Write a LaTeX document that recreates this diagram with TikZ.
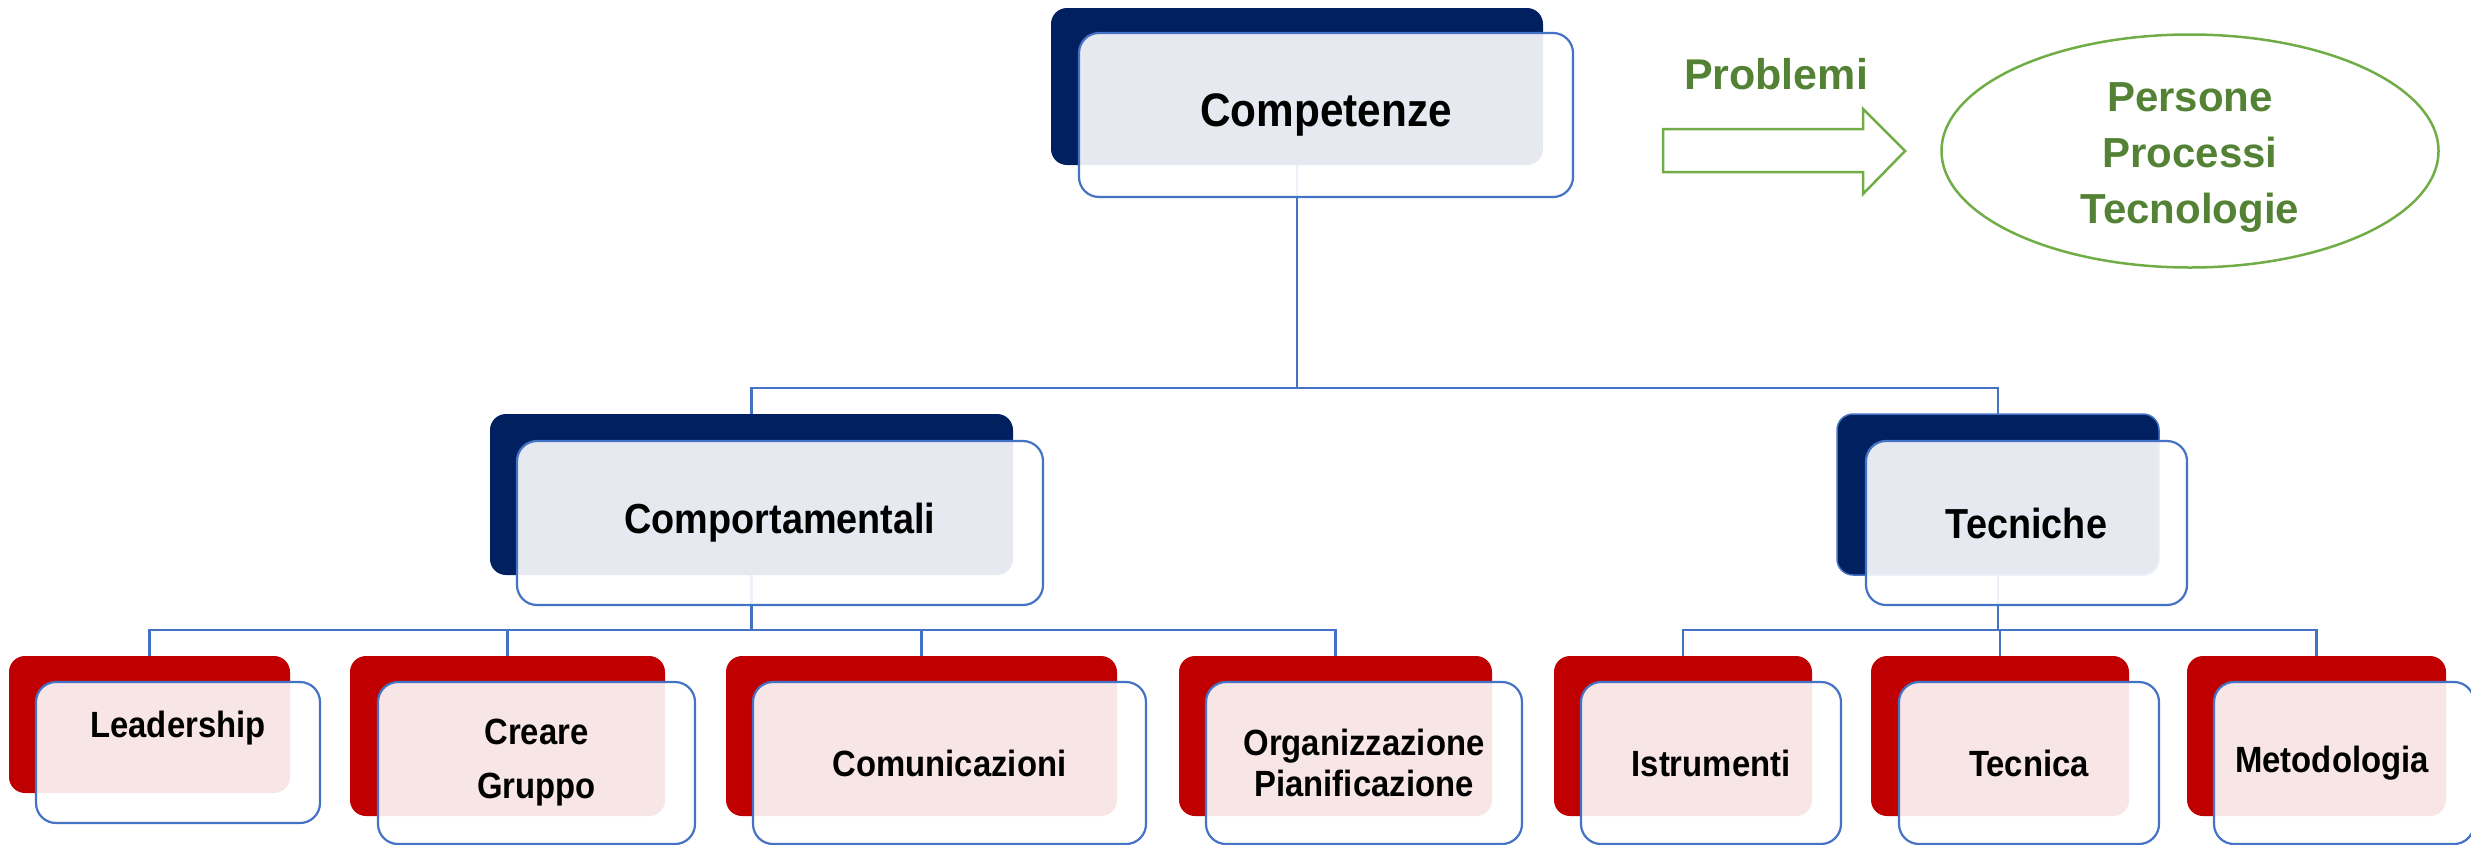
\documentclass[tikz,border=0pt]{standalone}
\usepackage{fontspec}
\setmainfont{Liberation Sans}
\newfontfamily\condfont[FakeStretch=0.9]{Liberation Sans}
\usetikzlibrary{calc,shapes.geometric}
\pgfdeclarelayer{bg}\pgfsetlayers{bg,main}
\definecolor{navy}{HTML}{002060}
\definecolor{dred}{HTML}{C00000}
\definecolor{lineblue}{HTML}{4472C4}
\definecolor{gtext}{HTML}{548235}
\definecolor{gline}{HTML}{70AD47}
\begin{document}
\begin{tikzpicture}[x=1pt,y=-1pt,
  backblue/.style={fill=navy, rounded corners=16pt, inner sep=0pt, outer sep=0pt},
  backred/.style={fill=dred, rounded corners=16pt, inner sep=0pt, outer sep=0pt},
  front/.style={draw=lineblue, line width=2.2pt, fill=white, fill opacity=0.9, text opacity=1,
                rounded corners=20pt, inner sep=0pt, outer sep=0pt, align=center},
  conn/.style={draw=lineblue, line width=2.4pt},
  tzero/.style={font=\condfont\bfseries\fontsize{47}{56}\selectfont},
  tone/.style={font=\condfont\bfseries\fontsize{42}{50}\selectfont},
  ttwo/.style={font=\condfont\bfseries\fontsize{36.5}{41}\selectfont},
  gtxt/.style={text=gtext, font=\bfseries\fontsize{42}{56}\selectfont, align=center, inner sep=0pt},
]
\useasboundingbox (0,0) rectangle (2471,844);

% level 0
\node[backblue, minimum width=492pt, minimum height=157pt] (c0d) at (1297,86.5) {};
\node[front, tzero, minimum width=494pt, minimum height=164pt] (c0f) at (1326,115) {Competenze};

% level 1
\node[backblue, minimum width=523pt, minimum height=161pt] (c1d) at (751.5,494.5) {};
\node[front, tone, minimum width=526pt, minimum height=164pt] (c1f) at (780,523) {Comportamentali};
\node[backblue, draw=lineblue, line width=1.5pt, minimum width=322pt, minimum height=161pt] (c2d) at (1998,494.5) {};
\node[front, tone, minimum width=321pt, minimum height=164pt] (c2f) at (2026.5,523) {Tecniche};

% level 2
\node[backred, minimum width=281pt, minimum height=137pt] (l1d) at (149.5,724.5) {};
\node[front, minimum width=284pt, minimum height=141pt] (l1f) at (178,752.5) {};
\node[ttwo, inner sep=0pt] (l1t) at (178,728) {Leadership};

\node[backred, minimum width=315pt, minimum height=160pt] (l2d) at (507.5,736) {};
\node[front, ttwo, minimum width=317pt, minimum height=162pt] (l2f) at (536.5,763) {Creare\\[13pt]Gruppo};

\node[backred, minimum width=391pt, minimum height=160pt] (l3d) at (921.5,736) {};
\node[front, ttwo, minimum width=393pt, minimum height=162pt] (l3f) at (949.5,763) {Comunicazioni};

\node[backred, minimum width=313pt, minimum height=160pt] (l4d) at (1335.5,736) {};
\node[front, ttwo, minimum width=316pt, minimum height=162pt] (l4f) at (1364,763) {Organizzazione\\Pianificazione};

\node[backred, minimum width=258pt, minimum height=160pt] (r1d) at (1683,736) {};
\node[front, ttwo, minimum width=260pt, minimum height=162pt] (r1f) at (1711,763) {Istrumenti};

\node[backred, minimum width=258pt, minimum height=160pt] (r2d) at (2000,736) {};
\node[front, ttwo, minimum width=260pt, minimum height=162pt] (r2f) at (2029,763) {Tecnica};

\node[backred, minimum width=259pt, minimum height=160pt] (r3d) at (2316.5,736) {};
\node[front, minimum width=260pt, minimum height=162pt] (r3f) at (2344,763) {};
\node[ttwo, inner sep=0pt] (r3t) at (2332,763) {Metodologia};

% connectors
\coordinate (bus0) at (0,388);
\coordinate (bus1) at (0,630);
\begin{pgfonlayer}{bg}
\draw[conn] (c0d.south) -- (c0d.south |- bus0) -| (c1d.north);
\draw[conn] (c0d.south |- bus0) -| (c2d.north);
\draw[conn] (c1d.south) -- (c1d.south |- bus1) -| (l1d.north);
\draw[conn] (c1d.south |- bus1) -| (l2d.north);
\draw[conn] (c1d.south |- bus1) -| (l3d.north);
\draw[conn] (c1d.south |- bus1) -| (l4d.north);
\draw[conn] (c2d.south) -- (c2d.south |- bus1) -| (r1d.north);
\draw[conn] (c2d.south |- bus1) -| (r2d.north);
\draw[conn] (c2d.south |- bus1) -| (r3d.north);
\end{pgfonlayer}

% Problemi arrow and ellipse
\node[gtxt, font=\bfseries\fontsize{43}{50}\selectfont] (prob) at (1776,74) {Problemi};
\draw[gline, line width=2.5pt, line join=miter]
  (1663,129) -- (1863,129) -- (1863,109) -- (1905,151) -- (1863,194) -- (1863,172) -- (1663,172) -- cycle;
\node[ellipse, draw=gline, line width=2.5pt, minimum width=497pt, minimum height=233pt, inner sep=0pt] (ell) at (2190,151) {};
\node[gtxt] (elltext) at (2190,157) {Persone\\Processi\\Tecnologie};
\end{tikzpicture}
\end{document}
